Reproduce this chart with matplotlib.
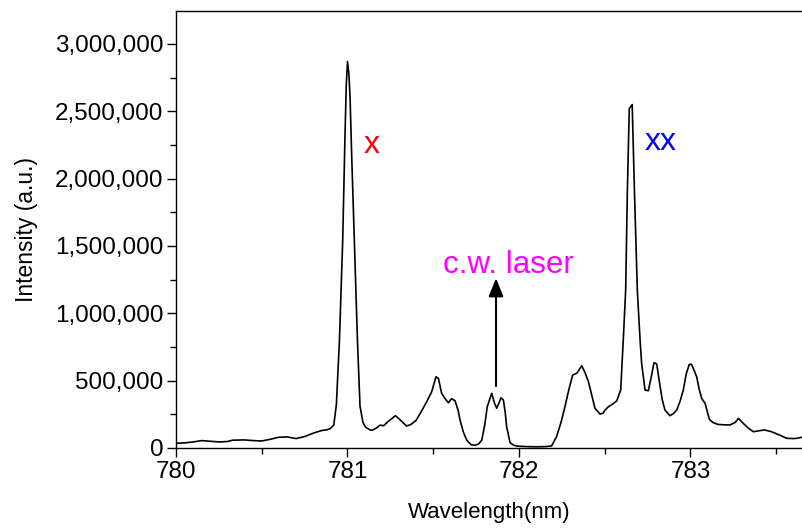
import matplotlib
matplotlib.use("Agg")
import matplotlib.pyplot as plt
from matplotlib.ticker import FuncFormatter, MultipleLocator

plt.rcParams['font.family'] = ['Liberation Sans', 'DejaVu Sans']

wavelength = [
    780.00, 780.05, 780.10, 780.15, 780.20, 780.25, 780.30, 780.33, 780.40, 780.45,
    780.50, 780.55, 780.60, 780.65, 780.70, 780.75, 780.80, 780.85, 780.88, 780.90,
    780.92, 780.935, 780.953, 780.972, 780.985, 780.993, 781.00, 781.008, 781.015, 781.025,
    781.04, 781.058, 781.073, 781.09, 781.105, 781.13, 781.145, 781.17, 781.19, 781.21,
    781.24, 781.28, 781.31, 781.345, 781.37, 781.40, 781.43, 781.462, 781.491, 781.516,
    781.53, 781.549, 781.57, 781.588, 781.607, 781.627, 781.645, 781.656, 781.675, 781.695,
    781.72, 781.743, 781.765, 781.783, 781.80, 781.815, 781.841, 781.858, 781.870, 781.882,
    781.895, 781.909, 781.92, 781.928, 781.948, 781.97, 781.99, 782.05, 782.10, 782.15,
    782.19, 782.219, 782.245, 782.268, 782.29, 782.313, 782.337, 782.366, 782.385, 782.405,
    782.425, 782.443, 782.472, 782.49, 782.501, 782.52, 782.545, 782.57, 782.593, 782.608,
    782.622, 782.632, 782.643, 782.660, 782.673, 782.69, 782.706, 782.715, 782.735, 782.754,
    782.77, 782.787, 782.803, 782.82, 782.835, 782.851, 782.88, 782.90, 782.92, 782.94,
    782.958, 782.975, 782.993, 783.006, 783.02, 783.036, 783.05, 783.065, 783.085, 783.11,
    783.13, 783.16, 783.20, 783.23, 783.26, 783.28, 783.31, 783.34, 783.366, 783.40,
    783.43, 783.47, 783.52, 783.56, 783.60, 783.62, 783.66,
]
intensity = [
    35e3, 38e3, 45e3, 55e3, 50e3, 45e3, 48e3, 58e3, 60e3, 55e3,
    52e3, 65e3, 80e3, 82e3, 70e3, 85e3, 110e3, 130e3, 135e3, 145e3,
    170e3, 320e3, 800e3, 1540e3, 2300e3, 2700e3, 2870e3, 2780e3, 2600e3, 2150e3,
    1540e3, 800e3, 310e3, 190e3, 155e3, 135e3, 132e3, 150e3, 170e3, 165e3,
    200e3, 240e3, 205e3, 163e3, 175e3, 205e3, 270e3, 344e3, 418e3, 529e3,
    517e3, 406e3, 365e3, 336e3, 366e3, 351e3, 280e3, 208e3, 120e3, 59e3,
    25e3, 20e3, 30e3, 59e3, 170e3, 307e3, 406e3, 330e3, 295e3, 330e3,
    373e3, 356e3, 260e3, 158e3, 39e3, 20e3, 14e3, 10e3, 9e3, 10e3,
    15e3, 84e3, 190e3, 307e3, 430e3, 542e3, 555e3, 611e3, 560e3, 492e3,
    390e3, 295e3, 252e3, 258e3, 280e3, 305e3, 325e3, 350e3, 430e3, 802e3,
    1173e3, 1915e3, 2520e3, 2550e3, 1915e3, 1170e3, 802e3, 629e3, 430e3, 425e3,
    520e3, 633e3, 624e3, 480e3, 360e3, 282e3, 240e3, 255e3, 282e3, 350e3,
    430e3, 550e3, 621e3, 621e3, 580e3, 529e3, 440e3, 369e3, 332e3, 213e3,
    190e3, 175e3, 172e3, 171e3, 190e3, 220e3, 180e3, 145e3, 121e3, 128e3,
    134e3, 122e3, 96e3, 72e3, 70e3, 72e3, 82e3,
]

x_ticks = [780, 781, 782, 783]
y_ticks = [0, 500000, 1000000, 1500000, 2000000, 2500000, 3000000]

fig = plt.figure(figsize=(8.03, 5.29), dpi=100)
ax = fig.add_axes([176/803, 81/529, 1 - 176/803, (448 - 11)/529])

ax.plot(wavelength, intensity, color='black', lw=1.2)

ax.set_xlim(780, 783.656)
ax.set_ylim(0, 3.245e6)
ax.set_xticks(x_ticks)
ax.set_yticks(y_ticks)
ax.xaxis.set_minor_locator(MultipleLocator(0.5))
ax.yaxis.set_minor_locator(MultipleLocator(250000))
ax.yaxis.set_major_formatter(FuncFormatter(lambda v, p: f"{int(v):,}"))

ax.spines['right'].set_visible(False)
for s in ['left', 'bottom', 'top']:
    ax.spines[s].set_linewidth(1.0)
ax.tick_params(which='major', direction='out', length=6.5, width=1.0, labelsize=17.5, pad=2.5)
ax.tick_params(which='minor', direction='out', length=4, width=1.0)
ax.tick_params(top=False, right=False, which='both')

ax.set_xlabel('Wavelength(nm)', fontsize=16, labelpad=14)
ax.set_ylabel('Intensity (a.u.)', fontsize=16.5, labelpad=12)

ax.text(781.092, 2.188e6, 'x', color='#ff0000', fontsize=23, ha='left', va='baseline')
ax.text(782.735, 2.212e6, 'xx', color='#0000ff', fontsize=23, ha='left', va='baseline')
ax.text(781.936, 1.301e6, 'c.w. laser', color='#ff00ff', fontsize=22.5, ha='center', va='baseline')

ax.annotate('', xy=(781.866, 1.26e6), xytext=(781.866, 0.46e6),
            arrowprops=dict(arrowstyle='-|>,head_length=1.1,head_width=0.45',
                            color='black', lw=1.5, shrinkA=0, shrinkB=0))

fig.savefig('out.png', dpi=100)
